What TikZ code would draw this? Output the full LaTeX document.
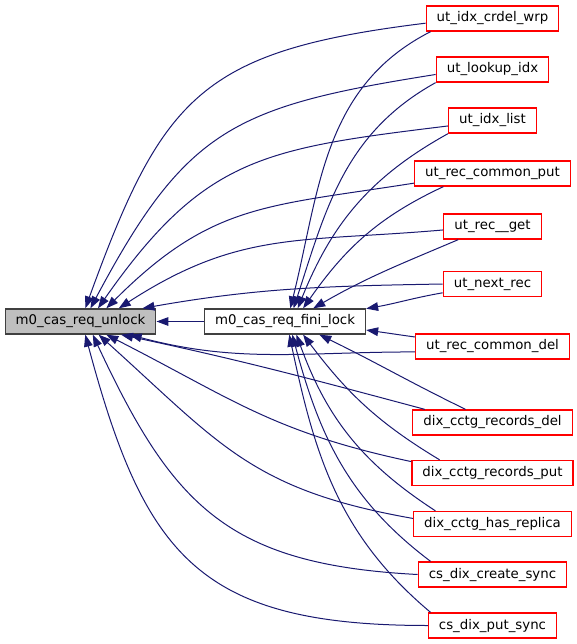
\documentclass[tikz,border=0pt]{standalone}
\usepackage{fontspec}
\setmainfont{DejaVu Sans}
\usetikzlibrary{arrows.meta}
\definecolor{edgeblue}{HTML}{191970}
\definecolor{grayfill}{HTML}{BFBFBF}

\begin{document}
\begin{tikzpicture}[x=0.75pt, y=0.75pt]
\tikzstyle{fStyle}=[shape = rectangle, draw=red, fill=white, line width=1pt,
minimum height=18.75pt, inner xsep=7.9pt, inner ysep=0pt, font=\fontsize{10}{12}\selectfont]
\tikzstyle{cStyle}=[fStyle, draw=black!75]
\tikzstyle{rStyle}=[cStyle, fill=grayfill]
\tikzstyle{eStyle}=[draw=edgeblue, line width=0.75pt,
-{Triangle[length=9pt, width=6.5pt]}]

\useasboundingbox (0,0) rectangle (577,-644);

\node[rStyle] (unlock) at (80.5,-321.5) {m0\_cas\_req\_unlock};
\node[cStyle] (fini) at (285,-321.5) {m0\_cas\_req\_fini\_lock};

\foreach \n/\y/\t in {crdel/18.5/ut\_idx\_crdel\_wrp, lookup/69.5/ut\_lookup\_idx,
  idxlist/120.5/ut\_idx\_list, rcput/173.5/ut\_rec\_common\_put,
  rget/226.5/ut\_rec\_\_get, nrec/284/ut\_next\_rec,
  rcdel/346.5/ut\_rec\_common\_del, rdel/422.5/dix\_cctg\_records\_del,
  rput/473/dix\_cctg\_records\_put, hrep/524/dix\_cctg\_has\_replica,
  csync/574.5/cs\_dix\_create\_sync, psync/625.5/cs\_dix\_put\_sync}
{
	\node[fStyle] (\n) at (492.5,-\y) {\t};
}

\draw[eStyle] (fini) -- (unlock);

% callers of m0_cas_req_unlock
\foreach \s/\o/\i/\t/\l in {crdel.184/187/70/unlock.70/1.3, lookup.185/189/62/unlock.53/1.25,
  idxlist.187/187/55/unlock.37/1.2, rcput.187/189/45/unlock.27/1.15,
  rget.184/185/33/unlock.19/1.1, nrec.180/181/10/unlock.12/1,
  rcdel.184/180/-15/unlock.-15/1, rdel.169/165/-12/unlock.-18/1,
  rput.172/168/-27/unlock.-27/1.1, hrep.176/170/-42/unlock.-36/1.15,
  csync.180/177/-65/unlock.-47/1.2, psync.180/180/-75/unlock.-70/1.3}
{
	\draw[eStyle] (\s) to[out=\o, in=\i, looseness=\l] (\t);
}

% callers of m0_cas_req_fini_lock
\foreach \s/\o/\i/\t in {crdel.192/207/76/fini.68, lookup.193/209/72/fini.57,
  idxlist.south west/209/68/fini.46, rcput.195/205/55/fini.36,
  rget.201/203/30/fini.25, nrec.190/190/10/fini.9,
  rcdel.173/172/-8/fini.-6, rdel.154/154/-26/fini.-21,
  rput.166/149/-53/fini.-36, hrep.167/147/-70/fini.-49,
  csync.168/143/-75/fini.-61, psync.168/140/-78/fini.-72}
{
	\draw[eStyle] (\s) to[out=\o, in=\i] (\t);
}
\end{tikzpicture}
\end{document}
